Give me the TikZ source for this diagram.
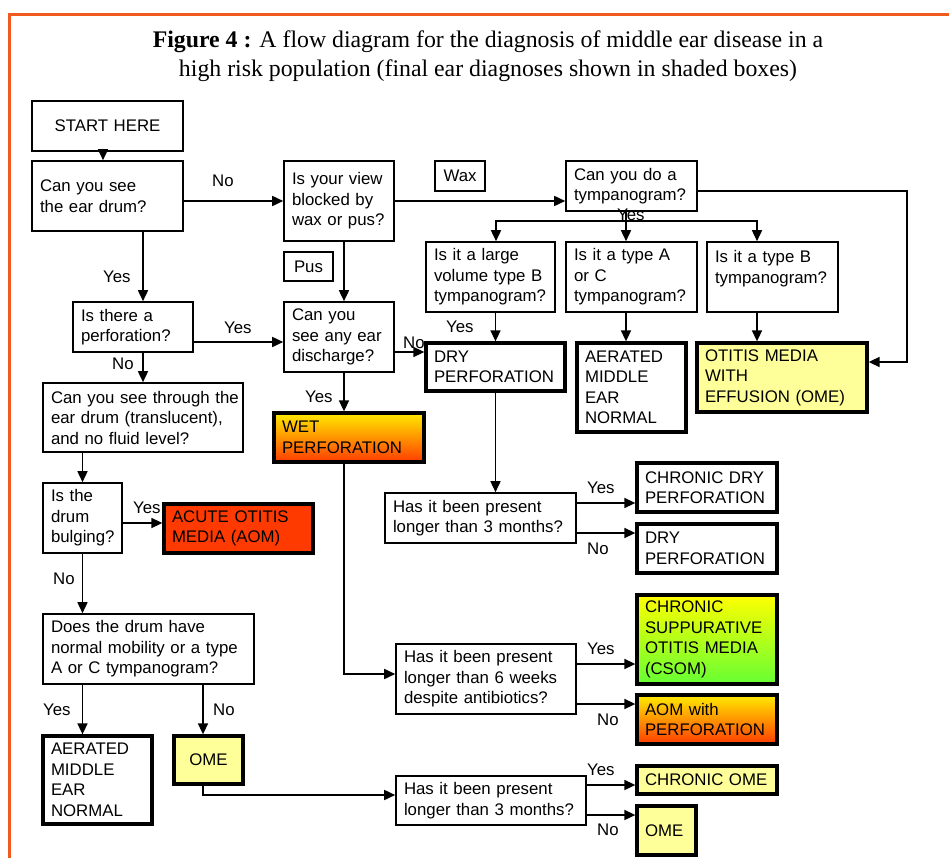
\documentclass[tikz,border=0pt]{standalone}
\usepackage{fontspec}
\setmainfont{Liberation Serif}
\setsansfont{Liberation Sans}
\usepackage{tikz}
\usetikzlibrary{arrows.meta,positioning,calc}

\definecolor{frameorange}{RGB}{240,90,30}
\definecolor{paleyellow}{RGB}{255,255,153}
\definecolor{aomred}{RGB}{255,58,0}
\definecolor{hotorange}{RGB}{255,60,0}
\definecolor{brightyellow}{RGB}{255,235,0}
\definecolor{csomgreen}{RGB}{102,255,51}

\tikzstyle{question} = [rectangle, draw=black, line width=1.6pt, align=left, inner xsep=8pt, inner ysep=0pt, font=\sffamily\fontsize{16.8}{20.5}\selectfont]
\tikzstyle{diagnosis} = [question, line width=3.3pt]
\tikzstyle{arrow} = [line width=1.6pt, ->, >={Stealth[inset=0pt,length=11pt,width=10pt]}]
\tikzstyle{answer} = [anchor=base west, inner sep=0pt, font=\sffamily\fontsize{16.8}{20.5}\selectfont]

\begin{document}
\begin{tikzpicture}[x=1pt, y=-1pt]
\useasboundingbox (0,0) rectangle (949,858);

% Frame and title
\draw[frameorange, line width=3pt] (949,14.5) -- (9,14.5) -- (9,858);
\node (title) at (488,56) [align=center, inner sep=0pt, font=\fontsize{23.8}{29}\selectfont]
  {\textbf{Figure 4 :} A flow diagram for the diagnosis of middle ear disease in a\\high risk population (final ear diagnoses shown in shaded boxes)};

% Left column
\node (start) at (107.5,126) [question, align=center, text width=135pt, minimum height=50pt] {START HERE};
\node (seedrum) at (107.5,196) [question, text width=135pt, minimum height=70pt] {Can you see\\the ear drum?};
\node (perforation) at (133,327) [question, text width=104pt, minimum height=50pt] {Is there a\\perforation?};
\node (seethrough) at (143,417.5) [question, text width=184pt, minimum height=69pt] {\mbox{Can you see through the}\\\mbox{ear drum (translucent),}\\and no fluid level?};
\node (bulging) at (82.5,518) [question, text width=63pt, minimum height=70pt] {Is the\\drum\\bulging?};
\node (aom) at (238.5,528.5) [diagnosis, fill=aomred, text width=133pt, minimum height=49pt] {ACUTE OTITIS\\MEDIA (AOM)};
\node (mobility) at (148.5,649) [question, text width=195pt, minimum height=70pt] {Does the drum have\\\mbox{normal mobility or a type}\\A or C tympanogram?};
\node (aerated2) at (97.5,780) [diagnosis, text width=93pt, minimum height=88pt] {AERATED\\MIDDLE\\EAR\\NORMAL};
\node (ome1) at (208.5,760) [diagnosis, fill=paleyellow, align=center, text width=53pt, minimum height=48pt] {OME};

% Middle column
\node (viewblocked) at (339,201) [question, text width=94pt, minimum height=80pt] {\mbox{Is your view}\\blocked by\\\mbox{wax or pus?}};
\node (wax) at (460,176) [question, align=center, inner xsep=0pt, text width=50pt, minimum height=30pt] {Wax};
\node (pus) at (308.5,266.5) [question, align=center, inner xsep=0pt, text width=49pt, minimum height=29pt] {Pus};
\node (discharge) at (339,337) [question, text width=94pt, minimum height=70pt] {Can you\\\mbox{see any ear}\\discharge?};
\node (wetperf) at (349,437.5) [diagnosis, top color=brightyellow, bottom color=hotorange, text width=134pt, minimum height=49pt] {WET\\PERFORATION};

% Tympanogram branch
\node (tymp) at (631.5,186) [question, text width=115pt, minimum height=50pt] {Can you do a\\tympanogram?};
\node (largeB) at (490.5,277) [question, text width=113pt, minimum height=70pt] {Is it a large\\\mbox{volume type B}\\tympanogram?};
\node (typeAC) at (631.5,277) [question, text width=115pt, minimum height=70pt] {Is it a type A\\or C\\tympanogram?};
\node (typeB) at (772.5,277) [question, text width=115pt, minimum height=70pt] {Is it a type B\\tympanogram?\\\mbox{}};
\node (dryperf) at (495.5,367) [diagnosis, text width=123pt, minimum height=48pt] {DRY\\PERFORATION};
\node (aerated1) at (631.5,387.5) [diagnosis, text width=93pt, minimum height=89pt] {AERATED\\MIDDLE\\EAR\\NORMAL};
\node (omeeff) at (782,377.5) [diagnosis, fill=paleyellow, text width=154pt, minimum height=69pt] {OTITIS MEDIA\\WITH\\EFFUSION (OME)};

% Duration questions
\node (months1) at (480.5,518) [question, text width=175pt, minimum height=50pt] {Has it been present\\\mbox{longer than 3 months?}};
\node (chronicdry) at (707,487.5) [diagnosis, text width=124pt, minimum height=49pt] {\mbox{CHRONIC DRY}\\PERFORATION};
\node (dryperf2) at (707,548.5) [diagnosis, text width=124pt, minimum height=49pt] {DRY\\PERFORATION};
\node (weeks) at (486,679) [question, text width=164pt, minimum height=70pt] {Has it been present\\longer than 6 weeks\\despite antibiotics?};
\node (csom) at (707,639.5) [diagnosis, top color=yellow, bottom color=csomgreen, text width=124pt, minimum height=89pt] {CHRONIC\\SUPPURATIVE\\\mbox{OTITIS MEDIA}\\(CSOM)};
\node (aomperf) at (707,719.5) [diagnosis, top color=brightyellow, bottom color=hotorange, text width=124pt, minimum height=49pt] {AOM with\\PERFORATION};
\node (months2) at (491,800.5) [question, text width=174pt, minimum height=49pt] {Has it been present\\\mbox{longer than 3 months?}};
\node (chronicome) at (707,780) [diagnosis, fill=paleyellow, text width=124pt, minimum height=28pt] {\mbox{CHRONIC OME}};
\node (ome2) at (666.5,830.5) [diagnosis, fill=paleyellow, text width=43pt, minimum height=49pt] {OME};

% Arrows
\draw [arrow] ([xshift=-4.5pt]start.south) -- ([xshift=-4.5pt]seedrum.north);
\draw [arrow] (seedrum.east |- viewblocked) -- (viewblocked.west);
\draw [arrow] (viewblocked.east) -- (viewblocked.east -| tymp.west);
\draw [arrow] ([xshift=10pt]perforation.north |- seedrum.south) -- ([xshift=10pt]perforation.north);
\draw [arrow] ([yshift=-15pt]perforation.east) -- ([yshift=-15pt]perforation.east -| discharge.west);
\draw [arrow] ([xshift=10pt]perforation.south) -- ([xshift=10pt]perforation.south |- seethrough.north);
\draw [arrow] ([xshift=5pt]viewblocked.south) -- ([xshift=5pt]discharge.north);
\draw [arrow] ([xshift=5pt]discharge.south) -- ([xshift=5pt]discharge.south |- wetperf.north);
\draw [arrow] ([yshift=-15pt]discharge.east) -- ([yshift=-15pt]discharge.east -| dryperf.west);

\coordinate (split) at (626,221);
\coordinate (rightrail) at (907,191);
\draw [line width=1.6pt] (tymp.south -| split) -- (split);
\draw [arrow] (split) -| ([xshift=5.5pt]largeB.north);
\draw [arrow] (split) -- (split |- typeAC.north);
\draw [arrow] (split) -| ([xshift=-15.5pt]typeB.north);
\draw [arrow] ([yshift=-5pt]tymp.east) -- ([yshift=-5pt]tymp.east -| rightrail) |- ([yshift=15.5pt]omeeff.east);
\draw [arrow] (largeB.south -| dryperf.north) -- (dryperf.north);
\draw [arrow] (split |- typeAC.south) -- (split |- aerated1.north);
\draw [arrow] ([xshift=-15.5pt]typeB.south) -- ([xshift=-15.5pt]typeB.south |- omeeff.north);

\draw [arrow] (dryperf.south) -- (dryperf.south |- months1.north);
\draw [arrow] ([yshift=15pt]months1.east) -- ([yshift=15pt]months1.east -| chronicdry.west);
\draw [arrow] ([yshift=-15pt]months1.east) -- ([yshift=-15pt]months1.east -| dryperf2.west);
\draw [arrow] ([xshift=-5pt]wetperf.south) |- ([yshift=5pt]weeks.west);
\draw [arrow] ([yshift=15pt]weeks.east) -- ([yshift=15pt]weeks.east -| csom.west);
\draw [arrow] ([yshift=-25pt]weeks.east) -- ([yshift=-25pt]weeks.east -| aomperf.west);

\draw [arrow] (bulging.north |- seethrough.south) -- (bulging.north);
\draw [arrow] ([yshift=-5pt]bulging.east) -- ([yshift=-5pt]bulging.east -| aom.west);
\draw [arrow] (bulging.south) -- (bulging.south |- mobility.north);
\draw [arrow] (bulging.south |- mobility.south) -- (bulging.south |- aerated2.north);
\draw [arrow] ([xshift=-5.5pt]ome1.north |- mobility.south) -- ([xshift=-5.5pt]ome1.north);
\draw [arrow] ([xshift=-5.5pt]ome1.south) |- ([yshift=5.5pt]months2.west);
\draw [arrow] ([yshift=15.5pt]months2.east) -- ([yshift=15.5pt]months2.east -| chronicome.west);
\draw [arrow] ([yshift=-14.5pt]months2.east) -- ([yshift=-14.5pt]months2.east -| ome2.west);

% Yes / No labels
\node (no1) at (212,187) [answer] {No};
\node (yes1) at (103,283) [answer] {Yes};
\node (yes2) at (224,333) [answer] {Yes};
\node (no2) at (112,369) [answer] {No};
\node (yes3) at (305,402) [answer] {Yes};
\node (no3) at (403,348) [answer] {No};
\node (yes4) at (617,221) [answer] {Yes};
\node (yes5) at (446,332) [answer] {Yes};
\node (yes6) at (587,493) [answer] {Yes};
\node (no6) at (587,554) [answer] {No};
\node (yes7) at (587,654) [answer] {Yes};
\node (no7) at (597,725) [answer] {No};
\node (yes8) at (587,775) [answer] {Yes};
\node (no8) at (597,835) [answer] {No};
\node (yes9) at (133,513) [answer] {Yes};
\node (no9) at (53,584) [answer] {No};
\node (yes10) at (43,715) [answer] {Yes};
\node (no10) at (213,715) [answer] {No};

\end{tikzpicture}
\end{document}
